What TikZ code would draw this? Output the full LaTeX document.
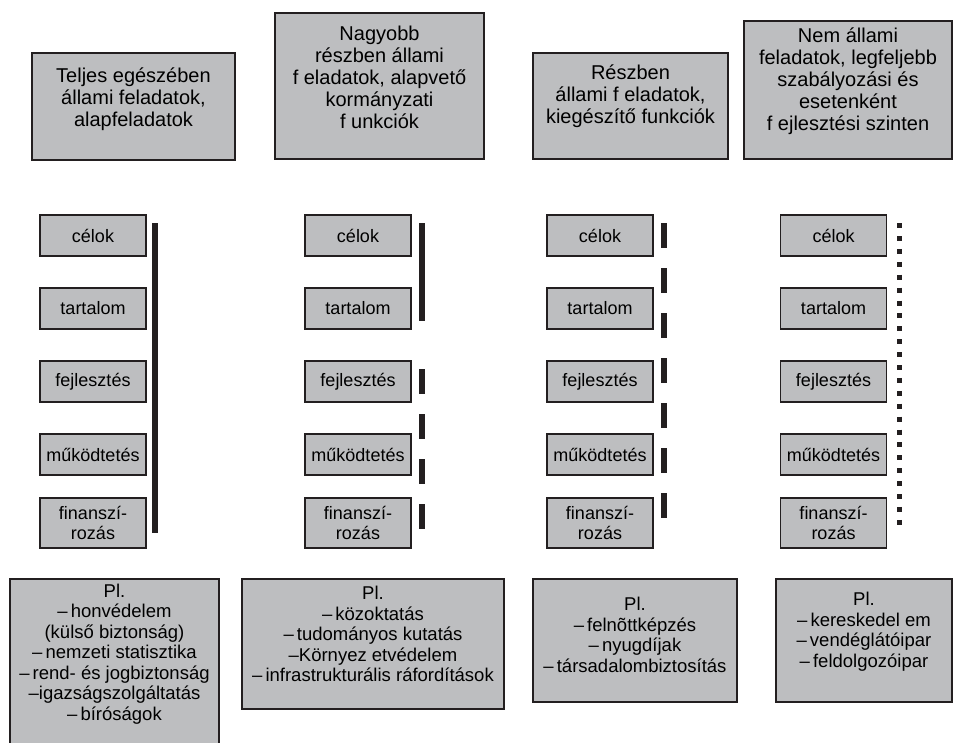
\documentclass[tikz,border=0pt]{standalone}
\usepackage{fontspec}
\setmainfont{Liberation Sans}
\usetikzlibrary{calc}

\definecolor{boxgray}{RGB}{189,190,192}
\definecolor{ink}{RGB}{35,31,32}
\newcommand{\textdrop}[1]{\vrule width 0pt height 0pt depth #1\relax}

\begin{document}
\begin{tikzpicture}[x=1pt, y=-1pt,
  box/.style={draw=ink, fill=boxgray, line width=1.8pt, align=center, inner sep=0pt},
  headbox/.style={box, font=\fontsize{20}{22}\selectfont},
  stepbox/.style={box, minimum width=106pt, minimum height=41pt, font=\fontsize{18}{20.5}\selectfont},
  examplebox/.style={box, minimum height=123pt, font=\fontsize{18.5}{20.5}\selectfont},
  bar/.style={draw=ink, line width=6pt},
  dashbar/.style={bar, dash pattern=on 25pt off 20pt},
  dotbar/.style={draw=ink, line width=5pt, dash pattern=on 5pt off 7.9pt}
]
\useasboundingbox (0,0) rectangle (953,742);

% Headings
\node[headbox, minimum width=203pt, minimum height=107pt] (head1) at (133.5,106.5)
  {Teljes egészében\\állami feladatok,\\alapfeladatok\textdrop{19pt}};
\node[headbox, minimum width=209pt, minimum height=146pt] (head2) at (379.5,86)
  {Nagyobb\\részben állami\\f eladatok, alapvető\\kormányzati\\f unkciók\textdrop{17pt}};
\node[headbox, minimum width=195pt, minimum height=106pt] (head3) at (630.5,106)
  {Részben\\állami f eladatok,\\kiegészítő funkciók\textdrop{23pt}};
\node[headbox, minimum width=208pt, minimum height=138pt] (head4) at (848,90)
  {Nem állami\\feladatok, legfeljebb\\szabályozási és\\esetenként\\f ejlesztési szinten\textdrop{22pt}};

% Steps, column 1
\node[stepbox] (cel1) at (93,235.5) {célok};
\node[stepbox] (tart1) at (93,308.5) {tartalom};
\node[stepbox] (fejl1) at (93,381.5) {fejlesztés};
\node[stepbox] (mukod1) at (93,454.5) {működtetés};
\node[stepbox, minimum height=50pt] (fin1) at (93,523) {finanszí-\\rozás};

% Steps, column 2
\node[stepbox] (cel2) at (358,235.5) {célok};
\node[stepbox] (tart2) at (358,308.5) {tartalom};
\node[stepbox] (fejl2) at (358,381.5) {fejlesztés};
\node[stepbox] (mukod2) at (358,454.5) {működtetés};
\node[stepbox, minimum height=50pt] (fin2) at (358,523) {finanszí-\\rozás};

% Steps, column 3
\node[stepbox] (cel3) at (600,235.5) {célok};
\node[stepbox] (tart3) at (600,308.5) {tartalom};
\node[stepbox] (fejl3) at (600,381.5) {fejlesztés};
\node[stepbox] (mukod3) at (600,454.5) {működtetés};
\node[stepbox, minimum height=50pt] (fin3) at (600,523) {finanszí-\\rozás};

% Steps, column 4
\node[stepbox] (cel4) at (833.5,235.5) {célok};
\node[stepbox] (tart4) at (833.5,308.5) {tartalom};
\node[stepbox] (fejl4) at (833.5,381.5) {fejlesztés};
\node[stepbox] (mukod4) at (833.5,454.5) {működtetés};
\node[stepbox, minimum height=50pt] (fin4) at (833.5,523) {finanszí-\\rozás};

% Bars
\draw[bar] ($(cel1.north east)+(8,9)$) -- ($(fin1.south east)+(8,-16)$);
\draw[bar] ($(cel2.north east)+(10,9)$) -- ($(tart2.south east)+(10,-9)$);
\draw[dashbar] ($(fejl2.north east)+(10,9)$) -- ($(fin2.south east)+(10,-19)$);
\draw[dashbar] ($(cel3.north east)+(10,9)$) -- ($(fin3.south east)+(10,-29)$);
\draw[dotbar] ($(cel4.north east)+(12,9)$) -- ($(fin4.south east)+(12,-22)$);

% Examples
\node[examplebox, minimum width=209pt, minimum height=181pt] (ex1) at (114.5,669.5)
  {Pl.\\–\,honvédelem\\(külső biztonság)\\–\,nemzeti statisztika\\–\,rend- és jogbiztonság\\–igazságszolgáltatás\\–\,bíróságok\textdrop{35pt}};
\node[examplebox, minimum width=262pt, minimum height=130pt] (ex2) at (373,644)
  {Pl.\\–\,közoktatás\\–\,tudományos kutatás\\–Környez etvédelem\\–\,infrastrukturális ráfordítások\textdrop{20pt}};
\node[examplebox, minimum width=204pt] (ex3) at (635,640.5)
  {Pl.\\–\,felnõttképzés\\–\,nyugdíjak\\–\,társadalombiztosítás\textdrop{11pt}};
\node[examplebox, minimum width=176pt] (ex4) at (864,640.5)
  {Pl.\\–\,kereskedel em\\–\,vendéglátóipar\\–\,feldolgozóipar\textdrop{21pt}};

\end{tikzpicture}
\end{document}
